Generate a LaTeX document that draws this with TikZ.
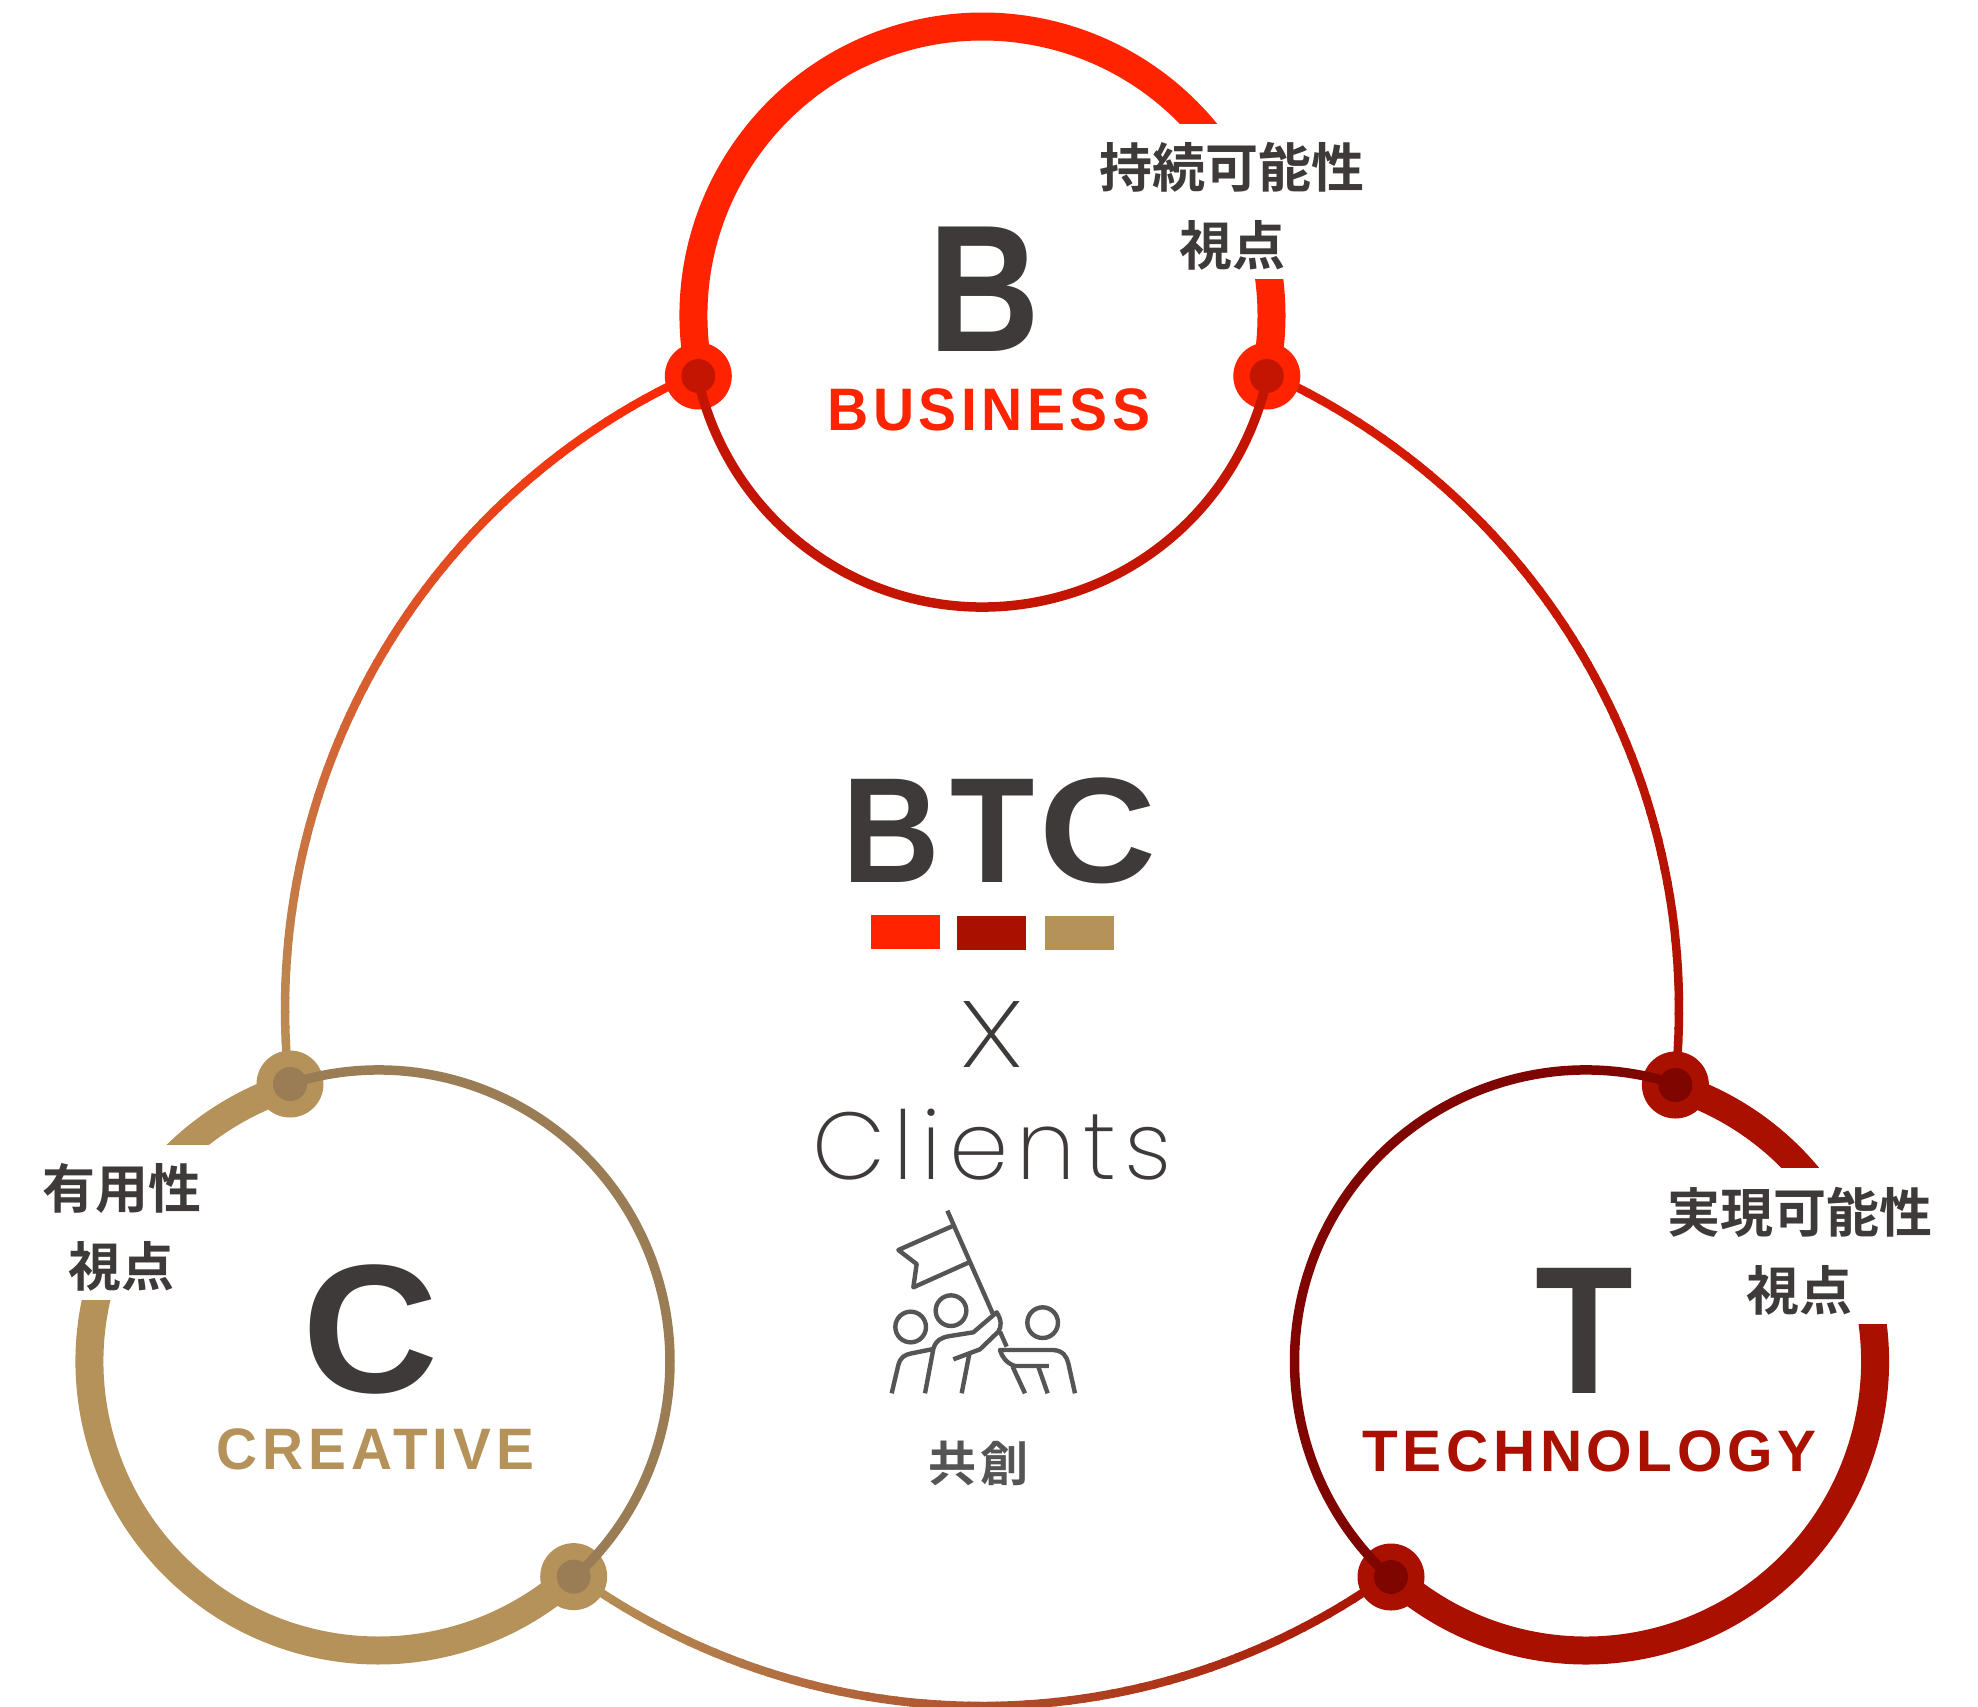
\documentclass[tikz,border=0pt]{standalone}
\usepackage{fontspec}
\usepackage{graphicx}
\newfontfamily\labf{Liberation Sans}[BoldFont={Liberation Sans Bold}]
\newfontfamily\litef{Poppins ExtraLight}
\newfontfamily\cjkf{Noto Sans CJK JP Bold}
\definecolor{cRed}{HTML}{FF2300}
\definecolor{cRedD}{HTML}{C41503}
\definecolor{cRedC}{HTML}{DC1C04}
\definecolor{cDark}{HTML}{AA1000}
\definecolor{cDarkD}{HTML}{7F0500}
\definecolor{cTan}{HTML}{B59259}
\definecolor{cTanD}{HTML}{9A7C55}
\definecolor{cText}{HTML}{3E3A39}
\definecolor{cIcon}{HTML}{555555}
\newcommand\lbl[4]{\fontsize{#1}{#1}\selectfont\addfontfeature{LetterSpace=#3}\scalebox{#2}[1]{#4}}
\newcommand\jp[1]{\fontsize{53}{53}\selectfont #1}
\tikzset{
  txt/.style={inner sep=0pt,outer sep=0pt,anchor=base},
  thickring/.style={line width=28pt},
  thinring/.style={line width=9.5pt},
  dotout/.style={circle,inner sep=0pt,minimum size=67pt},
  dotin/.style={circle,inner sep=0pt,minimum size=34pt},
  swatch/.style={inner sep=0pt,anchor=north west},
  mask/.style={fill=white,draw=none},
  iconline/.style={draw=cIcon,line width=4.4pt,line join=round},
  bigarc/.style={line width=8.5pt}
}
\newcommand\gradarc[4]{% start angle, end angle, colour start, colour end
  \foreach \i in {0,...,59}{
    \pgfmathsetmacro\aa{#1+(#2-#1)*\i/60}
    \pgfmathsetmacro\bb{#1+(#2-#1)*(\i+1.15)/60}
    \pgfmathsetmacro\pp{100-100*(\i+.5)/60}
    \draw[bigarc,draw={#3!\pp!#4}] ([shift={(\aa:697)}]big) arc[start angle=\aa,end angle=\bb,radius=697];
  }}
\newcommand\thickarc[4]{% centre, colour, start, end
  \draw[thickring,#2] ([shift={(#3:289)}]#1) arc[start angle=#3,end angle=#4,radius=289];}
\newcommand\thinarc[4]{%
  \draw[thinring,#2] ([shift={(#3:291.5)}]#1) arc[start angle=#3,end angle=#4,radius=291.5];}
\begin{document}
\begin{tikzpicture}[x=1pt,y=-1pt]
\useasboundingbox (0,0) rectangle (1978,1706);
\coordinate (big) at (982,1009);
\coordinate (ringB) at (982.5,315.5);
\coordinate (ringC) at (378.5,1361.5);
\coordinate (ringT) at (1586,1361.5);
% large connecting arcs
\gradarc{-114}{-186.2}{cRed}{cTan}
\gradarc{-65.8}{6.3}{cRedC}{cDark}
\gradarc{125.7}{54.3}{cTan}{cDark}
% thick rings
\thickarc{ringB}{cRed}{-192}{12}
\thickarc{ringC}{cTan}{-107.7}{-312.2}
\thickarc{ringT}{cDark}{-72}{132.1}
% white label grounds
\fill[mask] (1150,124) rectangle (1330,279);
\fill[mask] (40,1145) rectangle (215,1300);
\fill[mask] (1770,1168) rectangle (1905,1324);
% dots
\node[dotout,fill=cRed] (b1) at (698.3,376) {};
\node[dotout,fill=cRed] (b2) at (1266.8,376) {};
\node[dotout,fill=cTan] (c1) at (290,1084) {};
\node[dotout,fill=cTan] (c2) at (573.7,1576.6) {};
\node[dotout,fill=cDark] (t1) at (1675.4,1085) {};
\node[dotout,fill=cDark] (t2) at (1391,1577) {};
% thin rings
\thinarc{ringB}{cRedD}{-192}{-348}
\thinarc{ringC}{cTanD}{-107.7}{47.8}
\thinarc{ringT}{cDarkD}{-72}{-227.9}
\node[dotin,fill=cRedD] (bi1) at (b1) {};
\node[dotin,fill=cRedD] (bi2) at (b2) {};
\node[dotin,fill=cTanD] (ci1) at (c1) {};
\node[dotin,fill=cTanD] (ci2) at (c2) {};
\node[dotin,fill=cDarkD] (ti1) at (t1) {};
\node[dotin,fill=cDarkD] (ti2) at (t2) {};
% letters
\node[txt,text=cText,font=\labf\bfseries] (lb) at (984.5,351) {\lbl{181}{.855}{0}{B}};
\node[txt,text=cRed,font=\labf\bfseries] (nb) at (989,430) {\lbl{60}{.95}{7.8}{BUSINESS}};
\node[txt,text=cText,font=\labf\bfseries] (lc) at (370.5,1392) {\lbl{183}{1.03}{0}{C}};
\node[txt,text=cTan,font=\labf\bfseries] (nc) at (375.4,1469.5) {\lbl{58.5}{.97}{9}{CREATIVE}};
\node[txt,text=cText,font=\labf\bfseries] (lt) at (1584,1393) {\lbl{182}{.88}{0}{T}};
\node[txt,text=cDark,font=\labf\bfseries] (nt) at (1589.5,1471) {\lbl{58.5}{1}{7.8}{TECHNOLOGY}};
% Japanese labels
\node[txt,text=cText,font=\cjkf] (j1) at (1231.5,187) {\jp{持続可能性}};
\node[txt,text=cText,font=\cjkf] (j2) at (1232,265) {\jp{視点}};
\node[txt,text=cText,font=\cjkf] (j3) at (122,1208) {\jp{有用性}};
\node[txt,text=cText,font=\cjkf] (j4) at (121.5,1286) {\jp{視点}};
\node[txt,text=cText,font=\cjkf] (j5) at (1800,1232) {\jp{実現可能性}};
\node[txt,text=cText,font=\cjkf] (j6) at (1799,1310) {\jp{視点}};
% centre
\node[txt,text=cText,font=\labf\bfseries] (btc) at (999.5,882) {\fontsize{150}{150}\selectfont\scalebox{.9}[1]{B}\kern10.6pt\scalebox{.92}[1]{T}\kern5.4pt\scalebox{1.08}[1]{C}};
\node[swatch,fill=cRed,minimum width=69pt,minimum height=34pt] (s1) at (871,915) {};
\node[swatch,fill=cDark,minimum width=69pt,minimum height=34pt] (s2) at (957,916) {};
\node[swatch,fill=cTan,minimum width=69pt,minimum height=34pt] (s3) at (1045,916) {};
\node[txt,text=cText,font=\litef] (x) at (992,1067) {\lbl{94}{1.27}{0}{X}};
\node[txt,text=cText,font=\litef] (cl) at (992,1179) {\lbl{95}{1}{8.3}{Clients}};
\node[txt,text=cIcon,font=\cjkf] (kyo) at (978.7,1481) {\fontsize{48}{48}\selectfont\addfontfeature{LetterSpace=9}共創};
% icon
\begin{scope}[shift={(870,1200)},x=.3333pt,y=-.3333pt]
\draw[iconline] (232,32) -- (368,340) (390,395) -- (410,440);
\draw[iconline] (248,78) -- (85,150) -- (140,192) -- (130,262) -- (295,188);
\draw[iconline] (122,381) circle[radius=46];
\draw[iconline] (243,332) circle[radius=46];
\draw[iconline] (518,368) circle[radius=46];
\draw[iconline] (65,580) -- (85,495) .. controls (92,470) and (105,464) .. (125,460) -- (190,447);
\draw[iconline] (165,580) -- (190,447) .. controls (197,420) and (215,412) .. (240,408) -- (310,397) -- (380,337) .. controls (395,360) and (395,380) .. (385,395) -- (330,448) -- (250,478);
\draw[iconline] (275,580) -- (298,462);
\draw[iconline] (537,498) -- (435,498) .. controls (410,490) and (395,470) .. (390,450) -- (550,450) .. controls (580,452) and (590,470) .. (595,490) -- (615,580);
\draw[iconline] (428,500) -- (465,580) (505,500) -- (533,580);
\end{scope}
\end{tikzpicture}
\end{document}
